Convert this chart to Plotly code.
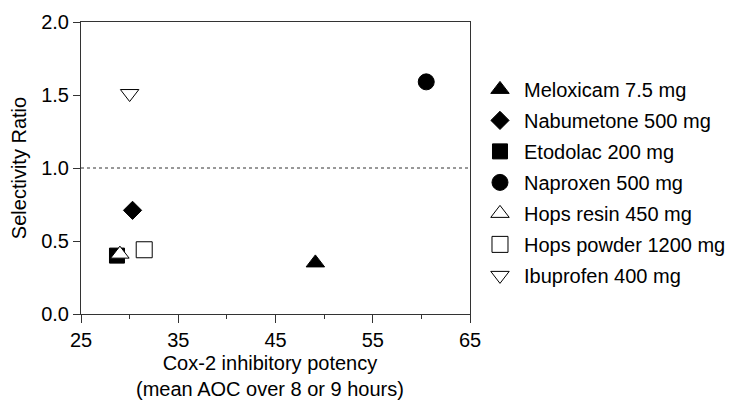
import plotly.graph_objects as go

drugs = ["Meloxicam 7.5 mg", "Nabumetone 500 mg", "Etodolac 200 mg", "Naproxen 500 mg",
         "Hops resin 450 mg", "Hops powder 1200 mg", "Ibuprofen 400 mg"]
potency = [49.1, 30.3, 28.7, 60.5, 29.0, 31.5, 30.0]
selectivity = [0.35, 0.71, 0.40, 1.59, 0.41, 0.44, 1.51]
symbols = ["triangle-up", "diamond", "square", "circle", "triangle-up", "square", "triangle-down"]
fills = ["black", "black", "black", "black", "white", "white", "white"]
sizes = [16, 14, 15, 16, 16, 16, 16]
reference_ratio = 1.0
x_ticks = [25, 35, 45, 55, 65]
y_ticks = [0.0, 0.5, 1.0, 1.5, 2.0]
x_title = "Cox-2 inhibitory potency<br>(mean AOC over 8 or 9 hours)"
y_title = "Selectivity Ratio"

FONT = "Liberation Sans, Arial, sans-serif"
AX = "#333333"

fig = go.Figure()
for i, name in enumerate(drugs):
    fig.add_trace(go.Scatter(
        x=[potency[i]], y=[selectivity[i]], mode="markers", name=name,
        legendgroup=name,
        marker=dict(symbol=symbols[i], size=sizes[i], color=fills[i],
                    line=dict(color="black", width=1)),
    ))

fig.add_shape(type="line", xref="x", yref="y", x0=25, x1=65, y0=reference_ratio, y1=reference_ratio,
              line=dict(color=AX, width=1, dash="dot"))

# x-axis title as a paper annotation so it can sit lower than the margin-constrained axis title
fig.add_annotation(text=x_title, xref="paper", yref="paper", x=0.486, y=-0.211,
                   xanchor="center", yanchor="middle", showarrow=False,
                   font=dict(family=FONT, size=20, color="black"))

# page body has an 8px margin, so the figure is sized to fit the 733x400 window
fig.update_layout(
    width=725, height=392,
    margin=dict(l=73, r=263, t=14, b=86, autoexpand=False),
    paper_bgcolor="white", plot_bgcolor="white",
    font=dict(family=FONT, size=20, color="black"),
    showlegend=True,
    legend=dict(x=1.0154, y=0.836, xanchor="left", yanchor="top", itemwidth=38,
                font=dict(size=20), traceorder="grouped", tracegroupgap=2,
                bgcolor="rgba(0,0,0,0)"),
    xaxis=dict(range=[25, 65], tickvals=x_ticks, ticks="outside", ticklen=8, tickcolor=AX,
               showline=True, linecolor=AX, linewidth=1, mirror=True, showgrid=False, zeroline=False,
               automargin=False,
               minor=dict(dtick=5, tick0=25, ticks="outside", ticklen=4, tickcolor=AX),
               tickfont=dict(size=20)),
    yaxis=dict(range=[0, 2.0], tickvals=y_ticks, tickformat=".1f", ticks="outside", ticklen=7, tickcolor=AX,
               showline=True, linecolor=AX, linewidth=1, mirror=True, showgrid=False, zeroline=False,
               automargin=False,
               title=dict(text=y_title, standoff=10, font=dict(size=20)), tickfont=dict(size=20)),
)

fig.write_html("out.html")
